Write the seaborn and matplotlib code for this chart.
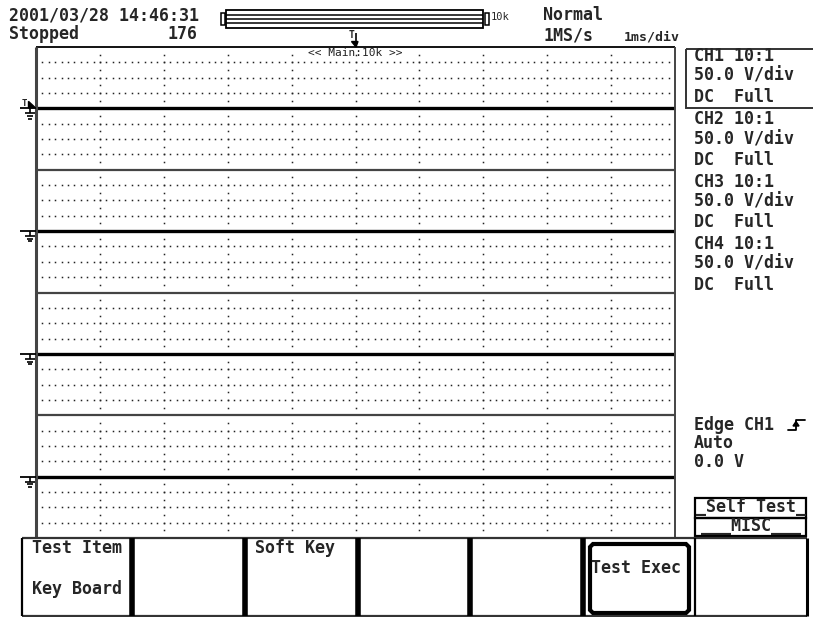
import numpy as np
import pandas as pd
import matplotlib
matplotlib.use("Agg")
import matplotlib.pyplot as plt
from matplotlib.patches import Rectangle, Polygon
import seaborn as sns

sns.set_theme(style="white")
plt.rcParams["font.family"] = ["DejaVu Sans Mono", "DejaVu Sans"]

# ---- acquisition data -------------------------------------------------------
time_ms = [0.0, 10.0]                 # 10 div x 1 ms/div
ch1_volts = [0.0, 0.0]
ch2_volts = [0.0, 0.0]
ch3_volts = [0.0, 0.0]
ch4_volts = [0.0, 0.0]
channel_names = ["CH1", "CH2", "CH3", "CH4"]
channel_volts = [ch1_volts, ch2_volts, ch3_volts, ch4_volts]
volts_per_div = 50.0
probe_ratio = "10:1"
coupling = "DC"
bandwidth = "Full"

header_date = "2001/03/28 14:46:31"
run_state = "Stopped"
acq_count = "176"
trigger_mode_label = "Normal"
sample_rate = "1MS/s"
time_base = "1ms/div"
record_len = "10k"
zoom_label = "<< Main:10k >>"
trigger_lines = ["Edge CH1", "Auto", "0.0 V"]
menu_title = "_Self Test_"
menu_group = "___MISC___"
softkey_labels = [("Test Item", "Key Board"), ("", ""), ("Soft Key", ""),
                  ("", ""), ("", ""), ("Test Exec", ""), ("", "")]

# ---- layout (pixels) --------------------------------------------------------
W, H = 813, 617
PL, PR, PT, PB = 36, 675, 47, 538
PH = (PB - PT) / 4

fig = plt.figure(figsize=(W / 100, H / 100), dpi=100)
fig.patch.set_facecolor("white")

GRID = "#222222"

for i, (name, volts) in enumerate(zip(channel_names, channel_volts)):
    top = PT + i * PH
    ax = fig.add_axes([PL / W, 1 - (top + PH) / H, (PR - PL) / W, PH / H])
    ax.set_xlim(0, 10)
    ax.set_ylim(-4 * volts_per_div, 4 * volts_per_div)
    ax.axis("off")
    # dotted graticule
    xs = np.arange(1, 100) / 10.0
    for d in (-3, -2, -1, 1, 2, 3):
        ax.plot(xs, np.full_like(xs, d * volts_per_div), ls="none", marker="s",
                ms=1.1, mew=0, color=GRID)
    ys = np.arange(-7, 8) * volts_per_div / 2
    for t in range(1, 10):
        ax.plot(np.full_like(ys, t), ys, ls="none", marker="s", ms=1.1, mew=0,
                color=GRID)
    df = pd.DataFrame({"t": time_ms, "v": volts})
    sns.lineplot(data=df, x="t", y="v", ax=ax, color="black", linewidth=2.4,
                 legend=False)
    ax.set_xlim(0, 10)
    ax.set_ylim(-4 * volts_per_div, 4 * volts_per_div)
    ax.axis("off")

ov = fig.add_axes([0, 0, 1, 1])
ov.set_xlim(0, W)
ov.set_ylim(H, 0)
ov.axis("off")

def line(x0, y0, x1, y1, lw=1.3, c="black"):
    ov.plot([x0, x1], [y0, y1], color=c, lw=lw, solid_capstyle="butt")

# screen frame
line(PL, PT, PR, PT, 1.3)
line(PL, PT, PL, PB, 2.2, "#444444")
line(PR, PT, PR, PB, 1.4, "#444444")
for k in range(1, 4):
    line(PL, PT + k * PH, PR, PT + k * PH, 1.6, "#444444")

# ground / trigger markers
for i in range(4):
    yc = PT + i * PH + PH / 2
    line(20, yc, PL, yc, 1.3)
    line(30, yc, 30, yc + 5, 1.2)
    line(25, yc + 5, 35, yc + 5, 1.2)
    line(26.7, yc + 7.8, 33.3, yc + 7.8, 1.2)
    line(28.3, yc + 10.3, 31.7, yc + 10.3, 1.2)
    if i == 0:
        ov.text(24.5, yc - 5, "T", fontsize=6.5, fontweight="bold",
                ha="center", va="center")
        ov.add_patch(Polygon([(28.5, yc - 7), (35.5, yc - 0.5), (28.5, yc - 0.5)],
                             closed=True, color="black"))

# header
hdr = dict(fontsize=12, fontweight="bold", va="center", ha="left")
ov.text(9, 16, header_date, **hdr)
ov.text(9, 34, run_state, **hdr)
ov.text(167, 34, acq_count, **hdr)
ov.text(543, 15, trigger_mode_label, **hdr)
ov.text(543, 36, sample_rate, **hdr)
ov.text(624, 37, time_base, fontsize=9.5, fontweight="bold", va="center", ha="left")
ov.text(491, 17, record_len, fontsize=7.5, va="center", ha="left")

# record-length bar
ov.add_patch(Rectangle((221, 12.5), 4, 12.5, fill=False, lw=1.1, ec="black"))
ov.add_patch(Rectangle((485, 12.5), 4, 12.5, fill=False, lw=1.1, ec="black"))
ov.add_patch(Rectangle((226, 10), 257, 17.5, fill=False, lw=1.3, ec="black"))
for yy in (14.5, 18.8, 23):
    line(226, yy, 483, yy, 1.1)

# trigger position marker
ov.text(352, 35, "T", fontsize=7, fontweight="bold", ha="center", va="center")
line(355.5, 33, 355.5, 43, 1.2)
ov.add_patch(Polygon([(351.5, 41.5), (358, 41.5), (356, 47)], closed=True,
                     color="black"))

ov.text((PL + PR) / 2, 53, zoom_label, fontsize=8, ha="center", va="center",
        color="#222222")

# channel setup column
ov.add_patch(Rectangle((686, 49), 140, 59, fill=False, lw=1.4, ec="#333333"))
ys_info = [56, 76, 97, 119, 139, 160, 182, 202, 222, 244, 264, 285]
k = 0
for name in channel_names:
    for txt in (f"{name} {probe_ratio}", f"{volts_per_div:.1f} V/div",
                f"{coupling}  {bandwidth}"):
        ov.text(694, ys_info[k], txt, **hdr)
        k += 1

# trigger settings
for txt, yy in zip(trigger_lines, [425, 443, 462]):
    ov.text(694, yy, txt, **hdr)
ov.plot([788, 796, 796, 805], [430, 430, 420, 420], color="black", lw=1.3)
ov.add_patch(Polygon([(793, 426), (799, 426), (796, 421.5)], closed=True,
                     color="black"))

# menu header boxes
ov.add_patch(Rectangle((695, 498), 111, 20, fill=False, lw=1.6, ec="black"))
ov.add_patch(Rectangle((695, 518), 111, 18, fill=False, lw=1.6, ec="black"))
ov.text(750.5, 507, menu_title, ha="center", va="center", fontsize=12,
        fontweight="bold")
ov.text(750.5, 526, menu_group, ha="center", va="center", fontsize=12,
        fontweight="bold")

# soft keys
SK_T, SK_B = 538, 616
line(22, SK_T, 807, SK_T, 1.6, "#333333")
line(22, SK_B, 807, SK_B, 1.6, "#333333")
dividers = [(22, 1.6), (132, 4.0), (245, 4.0), (358, 4.0), (470, 4.0),
            (583, 4.0), (695, 1.6), (807, 2.2)]
for x, lw in dividers:
    line(x, SK_T, x, SK_B, lw)
key_lefts = [22, 132, 245, 358, 470, 583, 695]
for (l1, l2), xl in zip(softkey_labels, key_lefts):
    if l1 == "Test Exec":
        bx0, bx1, by0, by1, c = 590, 689, 544, 613, 3
        ov.add_patch(Polygon([(bx0 + c, by0), (bx1 - c, by0), (bx1, by0 + c),
                              (bx1, by1 - c), (bx1 - c, by1), (bx0 + c, by1),
                              (bx0, by1 - c), (bx0, by0 + c)],
                             closed=True, fill=False, lw=3, ec="black"))
        ov.text(591, 568, l1, **hdr)
        continue
    if l1:
        ov.text(xl + 10, 548, l1, **hdr)
    if l2:
        ov.text(xl + 10, 589, l2, **hdr)

fig.savefig("out.png", dpi=100, facecolor="white")
